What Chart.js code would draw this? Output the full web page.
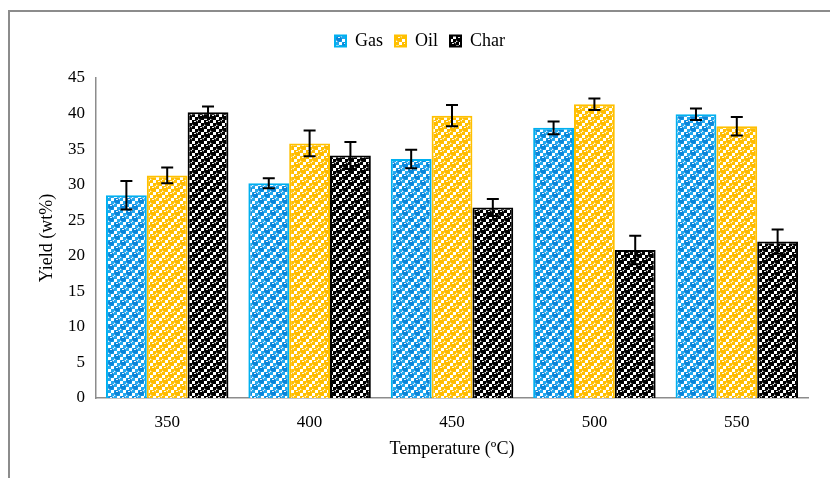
<!DOCTYPE html>
<html>
<head>
<meta charset="utf-8">
<script src="https://cdn.jsdelivr.net/npm/chart.js@4/dist/chart.umd.min.js"></script>
<style>
  html, body { margin: 0; padding: 0; background: #fff; }
  #wrap { position: relative; width: 830px; height: 478px; }
  #frame { position: absolute; left: 8px; top: 10px; right: 0; bottom: 0;
           border-left: 2px solid #8c8c8c; border-top: 2px solid #8c8c8c; }
  canvas { position: absolute; left: 0; top: 0; }
</style>
</head>
<body>
<div id="wrap">
  <div id="frame"></div>
  <canvas id="yieldChart" width="830" height="478"></canvas>
</div>
<script>
// data
const temperatures = ['350', '400', '450', '500', '550'];
const gasYield  = [28.5, 30.2, 33.6, 38.0, 39.9];
const oilYield  = [31.3, 35.8, 39.7, 41.3, 38.2];
const charYield = [40.2, 34.1, 26.8, 20.8, 22.0];
const gasErr  = [2.0, 0.7, 1.3, 0.9, 0.8];
const oilErr  = [1.1, 1.8, 1.5, 0.8, 1.3];
const charErr = [0.8, 1.9, 1.2, 2.0, 1.7];
const yTicks = [0, 5, 10, 15, 20, 25, 30, 35, 40, 45];

// checker + bubble fill, like the office pattern fill
function makePattern(dark, light) {
    const c = document.createElement('canvas');
    c.width = 12; c.height = 12;
    const g = c.getContext('2d');
    g.fillStyle = '#fff';
    g.fillRect(0, 0, 12, 12);
    g.fillStyle = light;
    for (let i = 0; i < 4; i++) {
        for (let j = 0; j < 4; j++) {
            if ((i + j) % 2 === 0) g.fillRect(i * 3, j * 3, 3, 3);
        }
    }
    g.fillStyle = dark;
    g.beginPath(); g.arc(3, 3, 3, 0, Math.PI * 2); g.fill();
    g.beginPath(); g.arc(9, 9, 3, 0, Math.PI * 2); g.fill();
    g.fillStyle = 'rgba(255,255,255,0.9)';
    g.fillRect(2, 1, 2, 1);
    g.fillRect(8, 7, 2, 1);
    return g.createPattern(c, 'repeat');
}

const serif = '"Liberation Serif", "Times New Roman", serif';

// error bars drawn through the chart's own scales
const errorBars = {
    id: 'errorBars',
    afterDatasetsDraw(chart) {
        const ctx = chart.ctx;
        const y = chart.scales.y;
        ctx.save();
        ctx.strokeStyle = '#000';
        ctx.lineWidth = 2;
        chart.data.datasets.forEach((ds, i) => {
            const meta = chart.getDatasetMeta(i);
            meta.data.forEach((bar, j) => {
                const v = ds.data[j], e = ds.errors[j];
                const top = y.getPixelForValue(v + e);
                const bot = y.getPixelForValue(v - e);
                const x = bar.x;
                ctx.beginPath();
                ctx.moveTo(x, top); ctx.lineTo(x, bot);
                ctx.moveTo(x - 6, top); ctx.lineTo(x + 6, top);
                ctx.moveTo(x - 6, bot); ctx.lineTo(x + 6, bot);
                ctx.stroke();
            });
        });
        ctx.restore();
    }
};

// extra room under the legend
const legendGap = {
    id: 'legendGap',
    beforeInit(chart) {
        const fit = chart.legend.fit;
        chart.legend.fit = function() {
            fit.call(this);
            this.height += 18;
        };
    }
};

const ctx = document.getElementById('yieldChart');
new Chart(ctx, {
    type: 'bar',
    data: {
        labels: temperatures,
        datasets: [{
            label: 'Gas',
            data: gasYield,
            errors: gasErr,
            backgroundColor: makePattern('#0a86da', '#20a8f0'),
            borderColor: '#00b0f0',
            borderWidth: 2
        }, {
            label: 'Oil',
            data: oilYield,
            errors: oilErr,
            backgroundColor: makePattern('#ffbb00', '#ffc000'),
            borderColor: '#ffc000',
            borderWidth: 2
        }, {
            label: 'Char',
            data: charYield,
            errors: charErr,
            backgroundColor: makePattern('#000', '#000'),
            borderColor: '#000',
            borderWidth: 2
        }]
    },
    options: {
        responsive: false,
        animation: false,
        layout: { padding: { left: 32, right: 22, top: 20, bottom: 0 } },
        datasets: { bar: { categoryPercentage: 0.86, barPercentage: 1.0 } },
        plugins: {
            legend: {
                position: 'top',
                labels: {
                    font: { family: serif, size: 18 },
                    color: '#000',
                    boxWidth: 11,
                    boxHeight: 11,
                    padding: 12
                }
            },
            tooltip: { enabled: false }
        },
        scales: {
            x: {
                afterFit(scale) { scale.height = 80; },
                grid: { display: false, drawTicks: false },
                border: { color: '#8c8c8c', width: 1.5 },
                ticks: { font: { family: serif, size: 17 }, color: '#000', padding: 14 },
                title: {
                    display: true,
                    text: 'Temperature (ºC)',
                    font: { family: serif, size: 18 },
                    color: '#000',
                    padding: { top: 0, bottom: 18 }
                }
            },
            y: {
                min: 0,
                max: 45,
                afterBuildTicks(scale) {
                    scale.ticks = yTicks.map(v => ({ value: v }));
                },
                afterFit(scale) { scale.width = 64; },
                grid: { display: false, drawOnChartArea: false, drawTicks: true, tickLength: 5, tickColor: '#8c8c8c' },
                border: { color: '#8c8c8c', width: 1.5 },
                ticks: { font: { family: serif, size: 17 }, color: '#000', padding: 6 },
                title: {
                    display: true,
                    text: 'Yield (wt%)',
                    font: { family: serif, size: 18 },
                    color: '#000',
                    padding: { bottom: 2 }
                }
            }
        }
    },
    plugins: [errorBars, legendGap]
});
</script>
</body>
</html>
